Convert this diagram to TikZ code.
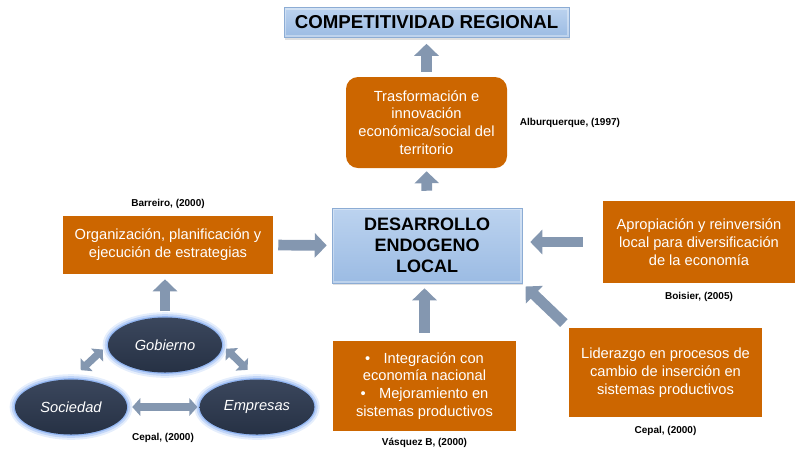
\documentclass[tikz,border=0pt]{standalone}
\usepackage{fontspec}
\setmainfont{Liberation Sans}
\usetikzlibrary{arrows.meta, positioning, shadows, shapes.geometric}

\definecolor{tierorange}{HTML}{CC6600}
\definecolor{arrowgrey}{HTML}{8497B0}
\definecolor{bluetop}{HTML}{BCD3EF}
\definecolor{bluebottom}{HTML}{9BBBE3}
\definecolor{blueedge}{HTML}{8CACD4}
\definecolor{navytop}{HTML}{3B475D}
\definecolor{navybottom}{HTML}{263144}
\definecolor{glowblue}{HTML}{7FA9F0}

\begin{document}
\begin{tikzpicture}[x=0.75pt, y=-0.75pt,
        bluebox/.style={rectangle, draw=blueedge, top color=bluetop, bottom color=bluebottom, align=center, inner sep=3pt,
            path picture={\draw[white, opacity=0.35, line width=3.5pt] (path picture bounding box.south west) rectangle (path picture bounding box.north east);},
            drop shadow={opacity=0.25, shadow xshift=1pt, shadow yshift=-1.5pt}},
        orangebox/.style={rectangle, fill=tierorange, text=white, align=center, inner sep=4pt,
            font=\fontsize{11pt}{13.4pt}\selectfont},
        actor/.style={ellipse, top color=navytop, bottom color=navybottom, text=white, inner sep=0pt,
            minimum width=85.5pt, minimum height=41.25pt, font=\itshape\fontsize{11pt}{13pt}\selectfont,
            preaction={draw=glowblue, line width=8pt, opacity=0.2},
            preaction={draw=glowblue, line width=5pt, opacity=0.35},
            preaction={draw=glowblue, line width=2pt, opacity=0.7}},
        cite/.style={font=\bfseries\fontsize{7.5pt}{9pt}\selectfont},
        blockarrow/.style={-{Triangle[length=9pt, width=18pt]}, line width=8pt, draw=arrowgrey},
        twoway/.style={{Triangle[length=6pt, width=13pt]}-{Triangle[length=6pt, width=13pt]}, line width=5.5pt, draw=arrowgrey}
    ]
        \useasboundingbox (0,0) rectangle (802,455);

        % Goal
        \node[bluebox, minimum width=213.75pt, minimum height=22.5pt, font=\bfseries\fontsize{14pt}{16pt}\selectfont] (title) at (426.5,22.5) {COMPETITIVIDAD REGIONAL};

        % Core
        \node[bluebox, minimum width=142.5pt, minimum height=56.25pt, font=\bfseries\fontsize{13.5pt}{15.75pt}\selectfont] (core) at (427,245.5) {DESARROLLO\\ ENDOGENO\\ LOCAL};

        % Factors
        \node[orangebox, rounded corners=9pt, minimum width=120.75pt, minimum height=68.25pt] (transf) at (426.5,122.5) {Trasformación e\\ innovación\\ económica/social del\\ territorio};
        \node[orangebox, minimum width=157.5pt, minimum height=43.5pt] (plan) at (168,245) {Organización, planificación y\\ ejecución de estrategias};
        \node[orangebox, minimum width=144pt, minimum height=61.5pt] (reinv) at (699,242) {Apropiación y reinversión\\ local para diversificación\\ de la economía};
        \node[orangebox, minimum width=137.25pt, minimum height=67.5pt] (integ) at (424.5,386) {\textbullet\hspace{10pt}Integración con\\ economía nacional\\ \textbullet\hspace{10pt}Mejoramiento en\\ sistemas productivos};
        \node[orangebox, minimum width=144.75pt, minimum height=66.75pt] (lider) at (665.5,372.5) {Liderazgo en procesos de\\ cambio de inserción en\\ sistemas productivos};

        % Actors
        \node[actor] (gob) at (165,345) {Gobierno};
        \node[actor, minimum width=84pt] (soc) at (71,407) {Sociedad};
        \node[actor, minimum width=86pt] (emp) at (257,407) {Empresas};

        % Sources
        \node[cite, right=6pt of transf] (alb) {Alburquerque, (1997)};
        \node[cite, above=2pt of plan] (bar) {Barreiro, (2000)};
        \node[cite, below=3pt of reinv] (boi) {Boisier, (2005)};
        \node[cite, below=2pt of integ] (vas) {Vásquez B, (2000)};
        \node[cite, below=3pt of lider] (cep1) {Cepal, (2000)};
        \node[cite] (cep2) at (163,438) {Cepal, (2000)};

        % Connectors
        \draw[blockarrow, shorten <=3.75pt, shorten >=4.5pt] (transf.north) -- (title.south);
        \draw[blockarrow, shorten <=12.75pt, shorten >=2.25pt] (core.north) -- (transf.south);
        \draw[blockarrow, shorten <=3.75pt, shorten >=3.75pt] (plan.east) -- (core.west);
        \draw[blockarrow, shorten <=15pt, shorten >=6pt] (reinv.west) -- (core.east |- reinv.west);
        \draw[blockarrow, shorten <=6pt, shorten >=3.75pt] (integ.north) -- (integ.north |- core.south);
        \draw[blockarrow, shorten <=5pt, shorten >=3.5pt] (lider.north west) -- (core.south east);
        \draw[blockarrow, shorten <=4.5pt, shorten >=3.75pt] (gob.north) -- (gob.north |- plan.south);
        \draw[twoway, shorten <=10pt, shorten >=5pt] (soc.north) -- (gob.west);
        \draw[twoway, shorten <=4pt, shorten >=10pt] (gob.east) -- (emp.north);
        \draw[twoway, shorten <=3.75pt, shorten >=1.5pt] (soc.east) -- (emp.west);

    \end{tikzpicture}
\end{document}
